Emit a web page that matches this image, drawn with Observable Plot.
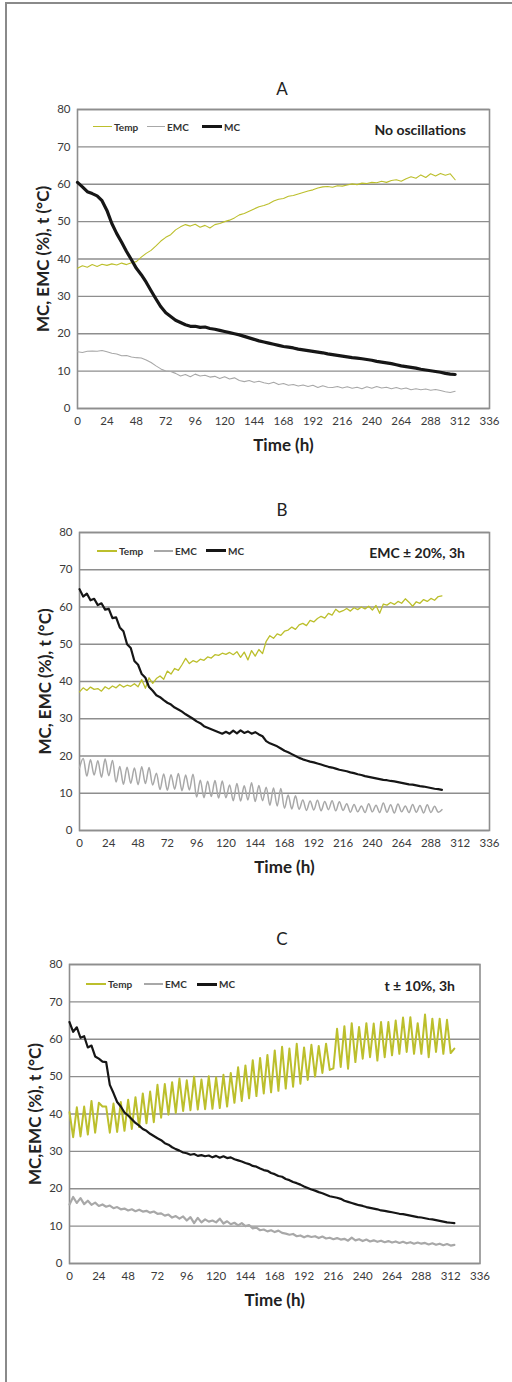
<!DOCTYPE html>
<html>
<head>
<meta charset="utf-8">
<script src="https://cdn.jsdelivr.net/npm/d3@7"></script>
<script src="https://cdn.jsdelivr.net/npm/@observablehq/plot@0.6"></script>
<style>
  html, body { margin: 0; padding: 0; background: #fff; }
  #page { position: relative; width: 512px; height: 1382px; overflow: hidden; font-family: Lato, "Open Sans", sans-serif; color: #222; }
  #outer { position: absolute; left: 5px; top: 2px; width: 600px; height: 1500px; border-left: 2px solid #8a8a8a; border-top: 2px solid #8a8a8a; }
  .panel { position: absolute; left: 0; }
  .ttl { position: absolute; font-size: 17px; transform: translate(-50%, -50%); line-height: 1; }
  .sw { position: absolute; }
  .lg { position: absolute; font-size: 10px; font-weight: 700; line-height: 1; transform: translateY(-50%); color: #333; }
  .note { position: absolute; font-size: 14px; font-weight: 700; line-height: 1; transform: translate(-100%, -50%); white-space: nowrap; color: #222; }
</style>
</head>
<body>
<div id="page"><div id="outer"></div></div>
<script>
// ---------------- DATA ----------------
const panelTitles = ["A", "B", "C"];
const panelNotes = ["No oscillations", "EMC \u00B1 20%, 3h", "t \u00B1 10%, 3h"];
const seriesNames = ["Temp", "EMC", "MC"];
const yLabels = ["MC, EMC (%), t (\u00B0C)", "MC, EMC (%), t (\u00B0C)", "MC,EMC (%), t (\u00B0C)"];
const xLabel = "Time (h)";
const xTicks = [0, 24, 48, 72, 96, 120, 144, 168, 192, 216, 240, 264, 288, 312, 336];
const yTicks = [0, 10, 20, 30, 40, 50, 60, 70, 80];

// Panel A: sampled every 4 h
const stepA = 4;
const tempA = [37.5,38.2,37.8,38.5,38.0,38.6,38.3,38.7,38.4,38.9,
  38.5,39.0,39.3,40.5,41.5,42.3,43.5,44.8,45.8,46.5,
  47.8,48.6,49.2,48.8,49.3,48.5,49.0,48.3,49.2,49.5,
  50.0,50.4,51.0,51.8,52.2,52.8,53.4,54.0,54.3,54.8,
  55.5,56.0,56.2,56.8,57.0,57.4,57.8,58.2,58.5,59.0,
  59.3,59.4,59.2,59.6,59.5,59.8,60.1,59.9,60.3,60.2,
  60.5,60.4,60.8,60.5,61.0,61.2,60.8,61.5,62.0,61.6,
  62.5,61.8,62.8,62.2,62.9,62.4,62.8,61.2];
const emcA = [15.2,15.0,15.3,15.4,15.3,15.5,15.2,14.8,14.6,14.1,
  14.2,13.8,13.6,13.5,13.0,12.3,11.4,10.6,10.0,9.9,
  9.4,8.7,9.1,8.5,9.2,8.7,8.9,8.4,8.6,8.0,
  8.5,7.9,8.2,7.5,7.2,7.5,7.0,7.3,6.9,6.6,
  7.0,6.4,6.7,6.2,6.4,6.0,6.3,5.9,6.2,5.6,
  6.1,5.7,5.6,5.9,5.5,5.8,5.4,5.7,5.3,5.8,
  5.4,5.9,5.5,5.7,5.3,5.6,5.2,5.5,5.0,5.3,
  5.0,5.2,4.9,5.1,4.8,4.5,4.3,4.6];
const mcA = [60.5,59.3,58.0,57.5,56.9,55.6,53.0,49.5,46.8,44.5,
  42.0,39.8,37.5,35.8,33.8,31.5,29.3,27.2,25.6,24.6,
  23.6,23.0,22.4,22.0,22.0,21.7,21.8,21.4,21.2,20.9,
  20.6,20.3,20.0,19.7,19.3,18.9,18.5,18.1,17.8,17.5,
  17.2,16.9,16.6,16.4,16.2,15.9,15.7,15.5,15.3,15.1,
  14.9,14.6,14.4,14.2,14.0,13.8,13.6,13.5,13.3,13.1,
  12.9,12.6,12.4,12.2,12.0,11.7,11.4,11.2,11.0,10.8,
  10.5,10.3,10.1,9.9,9.7,9.4,9.2,9.1];

// Panel B: sampled every 3 h
const stepB = 3;
const tempB = [37.2,38.3,37.6,38.5,37.9,38.1,37.4,38.6,38.0,38.8,
  38.3,39.2,38.5,39.0,38.7,39.4,38.6,40.5,38.2,41.0,
  39.5,40.8,41.5,40.6,42.8,42.0,43.5,43.0,44.5,46.2,
  44.8,45.6,45.2,46.0,45.7,46.6,46.3,47.2,47.0,47.6,
  47.3,47.8,47.2,48.0,46.5,47.9,45.8,48.3,46.8,48.6,
  47.5,50.8,52.3,51.6,52.8,52.4,53.5,53.8,54.6,54.0,
  55.2,55.6,55.0,56.4,56.0,56.9,57.5,57.0,58.3,57.8,
  59.4,58.6,59.0,59.6,58.9,59.8,59.3,60.0,59.5,60.2,
  59.2,60.4,58.3,60.8,60.5,61.2,60.7,61.5,61.0,62.2,
  61.3,60.2,61.4,61.0,62.0,61.5,62.3,61.8,62.8,63.0];
const emcB = [16.8,19.3,14.6,19.0,14.9,18.7,14.3,19.2,14.7,18.8,
  13.0,17.2,12.4,17.0,12.7,16.8,12.3,17.1,12.6,16.9,
  12.2,15.4,11.0,15.2,10.8,15.0,11.1,15.3,10.7,14.9,
  10.9,15.1,9.0,13.5,8.8,13.2,9.1,13.4,8.7,13.3,
  8.8,12.2,8.0,12.6,7.9,12.0,8.2,12.8,7.8,12.1,
  8.0,11.6,6.8,11.4,6.6,11.3,6.0,9.5,5.8,9.3,
  5.7,8.2,5.4,7.9,5.5,8.1,5.3,7.8,5.6,8.0,
  5.3,7.7,5.4,7.2,4.9,7.0,5.0,6.6,4.8,7.2,
  5.0,6.8,4.8,7.4,4.9,6.9,4.7,7.1,5.0,6.6,
  4.8,7.0,4.9,6.7,4.7,6.9,4.8,6.5,4.9,5.6];
const mcB = [64.8,62.8,63.6,61.8,62.2,60.5,61.0,59.3,59.5,57.0,
  57.2,54.5,53.5,50.0,49.0,45.5,44.5,42.0,41.0,38.5,
  37.5,36.3,35.8,35.0,34.3,33.8,33.0,32.5,31.9,31.2,
  30.6,30.0,29.3,28.8,28.0,27.6,27.2,26.8,26.4,26.0,
  26.5,26.0,26.8,26.1,26.9,26.2,26.6,26.0,26.4,25.8,
  25.3,24.0,23.4,23.0,22.6,22.0,21.4,21.0,20.5,20.0,
  19.5,19.1,18.8,18.5,18.3,18.0,17.7,17.4,17.1,16.9,
  16.6,16.3,16.1,15.9,15.6,15.4,15.1,14.9,14.6,14.4,
  14.2,14.0,13.8,13.6,13.5,13.3,13.2,13.0,12.8,12.6,
  12.4,12.3,12.1,11.9,11.8,11.6,11.4,11.2,11.1,10.9];

// Panel C: sampled every 3 h
const stepC = 3;
const tempC = [40.5,33.8,41.8,34.0,42.0,34.5,43.5,35.0,43.0,42.0,
  42.0,35.0,42.8,35.2,43.2,35.5,43.8,36.0,44.5,36.5,
  45.5,37.5,46.0,37.8,47.8,39.0,48.0,39.8,48.5,40.3,
  49.5,40.8,49.0,41.0,50.0,41.2,49.2,41.3,50.1,41.4,
  49.8,41.6,50.5,42.0,51.0,43.0,52.5,43.5,53.0,44.2,
  54.4,44.8,55.0,45.5,55.8,45.8,57.0,46.2,58.0,46.8,
  57.5,47.3,58.8,48.1,57.8,49.1,58.5,50.0,58.2,51.0,
  58.8,51.8,52.2,62.8,52.6,63.5,52.1,64.3,53.9,63.3,
  54.8,64.3,55.2,64.2,54.3,64.6,55.2,64.6,55.7,65.0,
  56.1,65.8,56.6,65.9,56.1,64.3,56.1,66.6,55.2,65.5,
  56.6,65.5,56.1,65.2,56.3,57.5];
const emcC = [15.8,17.8,16.2,17.5,15.9,16.8,15.7,16.3,15.4,15.8,
  15.2,15.5,14.8,15.1,14.5,14.7,14.2,14.5,14.0,14.4,
  13.9,14.1,13.6,13.9,13.3,13.4,12.8,13.1,12.3,12.7,
  12.0,12.6,11.5,12.4,10.8,12.2,11.0,11.8,11.2,11.5,
  11.0,12.0,10.7,11.3,10.5,10.9,10.2,10.8,10.0,10.3,
  9.4,9.6,8.9,9.1,8.6,8.9,8.4,8.8,8.2,8.0,
  7.7,7.9,7.3,7.5,7.0,7.4,7.1,7.3,6.8,7.2,
  6.7,6.9,6.5,6.8,6.4,6.6,6.1,6.9,6.2,6.5,
  6.0,6.4,5.9,6.2,5.8,6.1,5.7,6.0,5.6,5.9,
  5.5,5.8,5.4,5.7,5.3,5.6,5.3,5.5,5.1,5.4,
  5.0,5.3,4.9,5.2,4.8,5.0];
const mcC = [64.6,62.0,63.2,60.4,60.8,57.8,58.3,55.4,54.8,54.0,
  53.9,47.8,45.6,43.2,42.0,40.4,39.6,38.6,37.6,36.9,
  36.0,35.5,34.7,34.1,33.5,33.0,32.2,31.8,31.1,30.6,
  30.2,29.7,29.5,29.1,29.3,28.8,29.0,28.7,28.9,28.4,
  28.8,28.3,28.7,28.2,28.4,27.9,27.6,27.3,26.9,26.6,
  26.1,25.9,25.4,25.0,24.8,24.2,23.9,23.4,23.2,22.6,
  22.3,21.8,21.5,21.1,20.6,20.2,19.8,19.5,19.1,18.8,
  18.4,18.0,17.8,17.6,17.3,16.8,16.5,16.2,15.9,15.6,
  15.4,15.1,14.9,14.7,14.5,14.2,14.1,13.9,13.7,13.5,
  13.3,13.2,13.0,12.8,12.6,12.4,12.3,12.1,11.9,11.8,
  11.6,11.4,11.2,11.0,10.9,10.8];

// ---------------- STYLE / LAYOUT ----------------
const colors = { temp: "#bcbf2c", emc: "#a8a8a8", mc: "#161616" };
const layouts = [
  { step: stepA, series: [tempA, emcA, mcA], widths: [1.1, 1.1, 3.2], curves: ["linear", "linear", "linear"],
    left: 77, right: 489, top: 109, bottom: 408,
    titleY: 88, legY: 126.7, sw: [[93,112],[147,165],[202,222]], noteX: 466, noteY: 130 },
  { step: stepB, series: [tempB, emcB, mcB], widths: [1.3, 1.5, 2.2], curves: ["linear", "catmull-rom", "linear"],
    left: 79, right: 489, top: 532, bottom: 830,
    titleY: 508.5, legY: 550.7, sw: [[97,117],[154,173],[206,226]], noteX: 465, noteY: 553 },
  { step: stepC, series: [tempC, emcC, mcC], widths: [2.0, 2.2, 2.2], curves: ["linear", "linear", "linear"],
    left: 69, right: 479.5, top: 964, bottom: 1263,
    titleY: 938, legY: 984.3, sw: [[86,106],[144,163],[197,217]], noteX: 455, noteY: 986 }
];
const seriesColors = [colors.temp, colors.emc, colors.mc];
const legendSw = [[1.6, 1.6, 3], [2, 2, 2.6], [2.4, 2.4, 2.6]];

const page = document.getElementById("page");
const padTop = 20, padBottom = 62;

layouts.forEach((L, p) => {
  const lines = L.series.map((arr, s) =>
    Plot.line(arr, { x: (d, i) => i * L.step, y: d => d, stroke: seriesColors[s], strokeWidth: L.widths[s],
      strokeLinejoin: "round", curve: L.curves[s] })
  );
  const svg = Plot.plot({
    width: 512,
    height: padTop + (L.bottom - L.top) + padBottom,
    marginLeft: L.left,
    marginRight: 512 - L.right,
    marginTop: padTop,
    marginBottom: padBottom,
    style: { fontFamily: "Lato, 'Open Sans', sans-serif", fontSize: "11.5px", color: "#3a3a3a", background: "transparent", overflow: "visible" },
    x: { domain: [0, 336], ticks: xTicks, tickSize: 0, tickPadding: 8, tickFormat: d => String(d),
         label: xLabel, labelAnchor: "center", labelOffset: 42, labelArrow: "none" },
    y: { domain: [0, 80], ticks: yTicks, tickSize: 0, tickPadding: 7, tickFormat: d => String(d),
         label: yLabels[p], labelAnchor: "center", labelOffset: 41, labelArrow: "none" },
    marks: [
      Plot.gridY(yTicks, { stroke: "#8e8e8e", strokeOpacity: 1, strokeWidth: 1.4 }),
      Plot.frame({ stroke: "#8e8e8e", strokeWidth: 1.6 }),
      ...lines
    ]
  });
  svg.querySelectorAll('[aria-label="x-axis label"] text, [aria-label="y-axis label"] text').forEach(t => {
    t.setAttribute("font-size", "17px");
    t.setAttribute("font-weight", "700");
    t.setAttribute("fill", "#222");
  });
  const wrap = document.createElement("div");
  wrap.className = "panel";
  wrap.style.top = (L.top - padTop) + "px";
  wrap.appendChild(svg);
  page.appendChild(wrap);

  // title
  const t = document.createElement("div");
  t.className = "ttl";
  t.style.left = "282px";
  t.style.top = L.titleY + "px";
  t.textContent = panelTitles[p];
  page.appendChild(t);

  // legend
  seriesNames.forEach((name, s) => {
    const [x0, x1] = L.sw[s];
    const h = legendSw[p][s];
    const sw = document.createElement("div");
    sw.className = "sw";
    sw.style.left = x0 + "px";
    sw.style.width = (x1 - x0) + "px";
    sw.style.top = (L.legY - h / 2) + "px";
    sw.style.height = h + "px";
    sw.style.background = seriesColors[s];
    page.appendChild(sw);
    const lg = document.createElement("div");
    lg.className = "lg";
    lg.style.left = (x1 + 2) + "px";
    lg.style.top = L.legY + "px";
    lg.textContent = name;
    page.appendChild(lg);
  });

  // note
  const n = document.createElement("div");
  n.className = "note";
  n.style.left = L.noteX + "px";
  n.style.top = L.noteY + "px";
  n.textContent = panelNotes[p];
  page.appendChild(n);
});
</script>
</body>
</html>
